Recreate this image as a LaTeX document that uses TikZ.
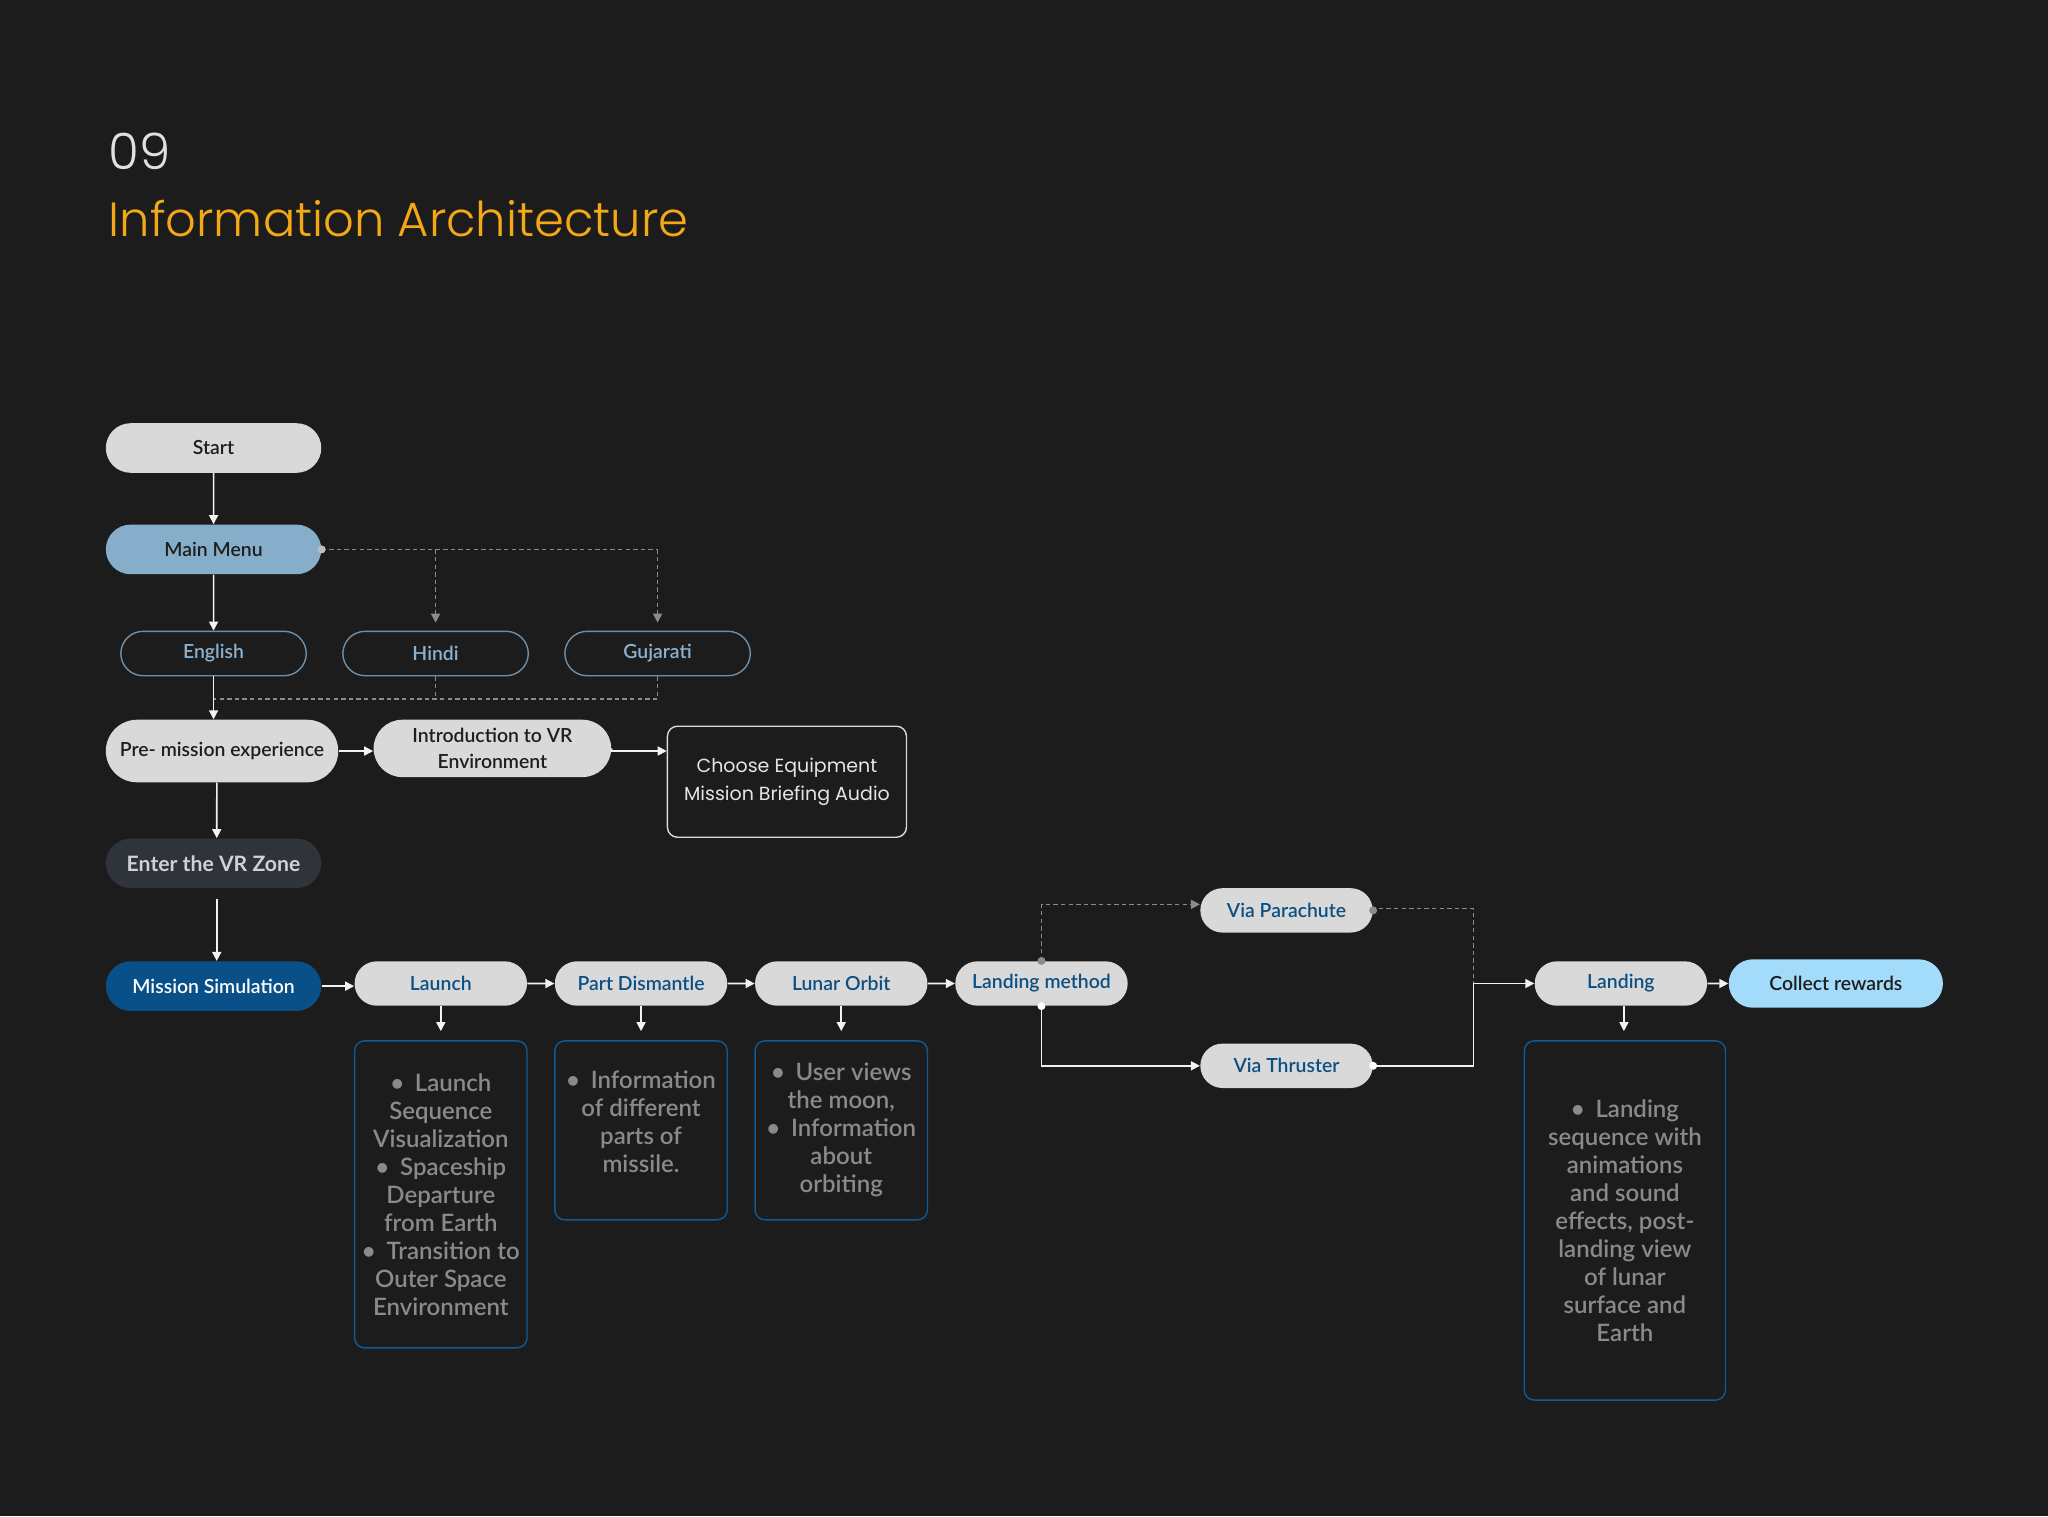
\documentclass[tikz,border=0pt]{standalone}
\usepackage{fontspec}
\setmainfont{Lato}
\newfontfamily\semifont{Lato Semibold}
\newfontfamily\titlefont{Poppins Light}
\newfontfamily\notefont{Poppins}
\usepackage{tikz}
\usetikzlibrary{arrows.meta}
\usetikzlibrary{positioning}
\usetikzlibrary{shapes.misc}
\usepackage{xcolor}

\definecolor{bgdark}{HTML}{1C1C1C}
\definecolor{pillgrey}{HTML}{D9D9D9}
\definecolor{textdark}{HTML}{1E1E1E}
\definecolor{deepblue}{HTML}{0C4F82}
\definecolor{menublue}{HTML}{86AECB}
\definecolor{langline}{HTML}{6F8FA8}
\definecolor{langtext}{HTML}{8DB2D0}
\definecolor{zonefill}{HTML}{2F333A}
\definecolor{simfill}{HTML}{0A5088}
\definecolor{rewardfill}{HTML}{A3DBFB}
\definecolor{boxblue}{HTML}{0F5A94}
\definecolor{infogrey}{HTML}{8A8A8A}
\definecolor{dashgrey}{HTML}{8C8C8C}
\definecolor{arrowwhite}{HTML}{F2F2F2}
\definecolor{titleorange}{HTML}{F3A916}

\tikzset{
	pill/.style={rounded rectangle, inner sep=0pt, align=center,
		font=\semifont\fontsize{9.7}{12}\selectfont},
	wide/.style={minimum width=107.7pt, minimum height=24.8pt},
	short/.style={minimum width=86.2pt, minimum height=22.2pt},
	lightpill/.style={pill, fill=pillgrey, text=textdark},
	bluepill/.style={pill, short, fill=pillgrey, text=deepblue},
	langpill/.style={pill, minimum width=92.7pt, minimum height=22.2pt,
		draw=langline, line width=0.7pt, text=langtext},
	infobox/.style={rectangle, draw=boxblue, rounded corners=5pt, line width=0.7pt,
		minimum width=86.2pt, align=center, text=infogrey, inner sep=0pt,
		font=\semifont\fontsize{12}{14}\selectfont},
	flow/.style={draw=arrowwhite, line width=0.8pt, -{Triangle[length=4.5pt,width=4.5pt]}},
	option/.style={draw=dashgrey, line width=0.8pt, dash pattern=on 2.2pt off 1.6pt},
	optionarrow/.style={option, -{Triangle[length=4.5pt,width=4.5pt]}},
	dotmark/.style={circle, fill=#1, inner sep=0pt, minimum size=4pt},
}

\begin{document}
\begin{tikzpicture}[x=0.653pt, y=-0.653pt]
	\fill[bgdark] (0,0) rectangle (1568,1161);
	\useasboundingbox (0,0) rectangle (1568,1161);

	% heading
	\node[anchor=base west, inner sep=0pt, text=white!88!black,
		font=\titlefont\fontsize{25}{30}\selectfont] (secnum) at (83,130) {09};
	\node[anchor=base west, inner sep=0pt, text=titleorange,
		font=\titlefont\fontsize{24}{30}\selectfont] (sectitle) at (83,181) {Information Architecture};

	% menu column
	\node[lightpill, wide] (start) at (163.5,343) {Start};
	\node[lightpill, wide, fill=menublue] (mainmenu) [below=25.5pt of start] {Main Menu};
	\node[langpill] (english) [below=28pt of mainmenu] {English};
	\node[langpill] (hindi) [right=17.6pt of english] {Hindi};
	\node[langpill] (gujarati) [right=17.6pt of hindi] {Gujarati};
	\coordinate (langjoin) at (163,535);

	\node[lightpill, minimum width=116.2pt, minimum height=31.3pt] (premission) at (170,575) {Pre- mission experience};
	\node[lightpill, minimum width=118.8pt, minimum height=28.7pt] (intro) at (377,573) {Introduction to VR\\[1pt]Environment};
	\node[rectangle, draw=white!85!black, rounded corners=5pt, line width=0.7pt,
		minimum width=119.5pt, minimum height=55.5pt, align=center, text=white!90!black,
		font=\notefont\fontsize{9.5}{13.7}\selectfont] (equipment) at (602.5,598.5)
		{Choose Equipment\\Mission Briefing Audio};

	\node[pill, wide, fill=zonefill, text=white!82!black,
		font=\bfseries\fontsize{10.6}{12}\selectfont] (vrzone) at (163.5,661) {Enter the VR Zone};
	\node[pill, wide, fill=simfill, text=white] (simulation) at (163.5,755) {Mission Simulation};

	% mission row
	\node[bluepill] (launch) at (337.5,753) {Launch};
	\node[bluepill] (dismantle) [right=13.5pt of launch] {Part Dismantle};
	\node[bluepill] (orbit) [right=13.5pt of dismantle] {Lunar Orbit};
	\node[bluepill] (method) [right=13.5pt of orbit] {Landing method};
	\node[bluepill] (parachute) at (985,697) {Via Parachute};
	\node[bluepill] (thruster) at (985,816) {Via Thruster};
	\coordinate (merge) at (1128,753);
	\node[bluepill] (landing) at (1241,753) {Landing};
	\node[pill, fill=rewardfill, text=textdark, minimum width=107.1pt, minimum height=24.2pt]
		(rewards) [right=10.4pt of landing] {Collect rewards};

	% detail boxes
	\node[infobox, minimum height=153.5pt] (launchinfo) [below=17pt of launch]
		{\textbullet\hspace{0.45em}Launch\\Sequence\\Visualization\\
		\textbullet\hspace{0.45em}Spaceship\\Departure\\from Earth\\
		\textbullet\hspace{0.45em}Transition to\\Outer Space\\Environment};
	\node[infobox, minimum height=89.5pt] (dismantleinfo) [below=17pt of dismantle]
		{\textbullet\hspace{0.45em}Information\\of different\\parts of\\missile.\\[-4.8pt]};
	\node[infobox, minimum height=89.5pt] (orbitinfo) [below=17pt of orbit]
		{\textbullet\hspace{0.45em}User views\\the moon,\\\textbullet\hspace{0.45em}Information\\about\\orbiting};
	\node[infobox, minimum width=100.6pt, minimum height=179.6pt] (landinginfo) [below=17pt of landing, xshift=2pt]
		{\textbullet\hspace{0.45em}Landing\\sequence with\\animations\\and sound\\effects, post-\\landing view\\of lunar\\surface and\\Earth};

	% connectors
	\draw[flow] (start) -- (mainmenu);
	\draw[flow] (mainmenu) -- (english);
	\draw[option] (mainmenu.east) node[dotmark=white!75!black]{} -- (gujarati.north |- mainmenu.east);
	\draw[optionarrow, shorten >=4pt] (hindi.north |- mainmenu.east) -- (hindi.north);
	\draw[optionarrow, shorten >=4pt] (gujarati.north |- mainmenu.east) -- (gujarati.north);
	\draw[option] (gujarati.south) |- (langjoin);
	\draw[option] (hindi.south) -- (hindi.south |- langjoin);
	\draw[flow] (english.south) -- (english.south |- premission.north);
	\draw[flow] (premission.east) -- (premission.east -| intro.west);
	\draw[flow] (intro.east) -- ++(0,2) -- ([yshift=-1.3pt]equipment.west |- intro.east);
	\draw[flow] (premission.south -| vrzone.north) ++(2.5,0) -- ([xshift=1.6pt]vrzone.north);
	\draw[flow, shorten <=5pt] ([xshift=1.6pt]vrzone.south) -- ([xshift=1.6pt]simulation.north);
	\draw[flow] (simulation.east) -- (simulation.east -| launch.west);
	\draw[flow] (launch) -- (dismantle);
	\draw[flow] (dismantle) -- (orbit);
	\draw[flow] (orbit) -- (method);
	\draw[flow, shorten >=4.5pt] (launch.south) -- (launchinfo.north);
	\draw[flow, shorten >=4.5pt] (dismantle.south) -- (dismantleinfo.north);
	\draw[flow, shorten >=4.5pt] (orbit.south) -- (orbitinfo.north);
	\draw[optionarrow] (method.north) node[dotmark=dashgrey]{} |- ([yshift=3pt]parachute.west);
	\draw[option] (parachute.east) node[dotmark=dashgrey]{} -- ++(0,-1.5) -| (merge);
	\draw[flow] (method.south) node[dotmark=white]{} |- (thruster.west);
	\draw[flow] (thruster.east) node[dotmark=white]{} -| (merge) -- (landing.west);
	\draw[flow] (landing) -- (rewards);
	\draw[flow, shorten >=4.5pt] ([xshift=1.5pt]landing.south) -- ([xshift=1.5pt]landing.south |- landinginfo.north);
\end{tikzpicture}
\end{document}
